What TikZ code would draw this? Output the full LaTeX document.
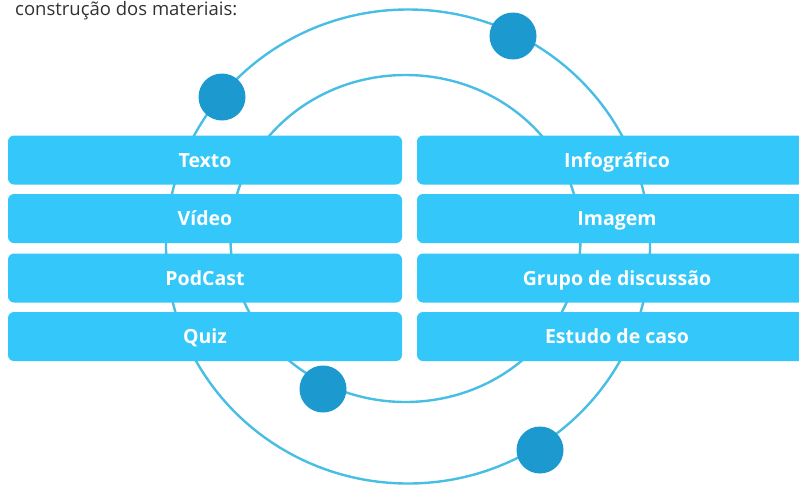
\documentclass[tikz,border=0pt]{standalone}
\usepackage{fontspec}
\setmainfont{Open Sans}
\definecolor{boxblue}{RGB}{52,199,249}
\definecolor{dotblue}{RGB}{28,154,208}
\definecolor{ringblue}{RGB}{72,190,228}
\definecolor{captiongray}{RGB}{50,50,50}
\begin{document}
\begin{tikzpicture}[x=1pt,y=-1pt,
  item/.style={draw=none,fill=boxblue,rounded corners=6pt,minimum height=49pt,
    text=white,font=\fontsize{19.5}{22}\selectfont\bfseries,inner sep=0pt,
    text height=14pt,text depth=0pt},
  leftitem/.style={item,minimum width=394pt},
  rightitem/.style={item,minimum width=400pt},
  ring/.style={draw=ringblue,line width=2.4pt},
  planet/.style={circle,fill=dotblue,minimum size=47pt,inner sep=0pt}]
\useasboundingbox (0,0) rectangle (799,485);
\node[anchor=base west,text=captiongray,font=\fontsize{18.5}{20}\selectfont,inner sep=0pt] (cap) at (15,15) {construção dos materiais:};
\draw[ring] (408,246.5) ellipse [x radius=242,y radius=237];
\draw[ring] (405.5,238.5) ellipse [x radius=175,y radius=163.5];
\node[leftitem] (texto) at (205,160) {Texto};
\node[leftitem] (video) at (205,218.5) {Vídeo};
\node[leftitem] (podcast) at (205,278) {PodCast};
\node[leftitem] (quiz) at (205,336.5) {Quiz};
\node[rightitem] (info) at (617,160) {Infográfico};
\node[rightitem] (imagem) at (617,218.5) {Imagem};
\node[rightitem] (grupo) at (617,278) {Grupo de discussão};
\node[rightitem] (estudo) at (617,336.5) {Estudo de caso};
\node[planet] (p1) at (222,97) {};
\node[planet] (p2) at (513,36) {};
\node[planet] (p3) at (323,389) {};
\node[planet] (p4) at (540,450) {};
\end{tikzpicture}
\end{document}
